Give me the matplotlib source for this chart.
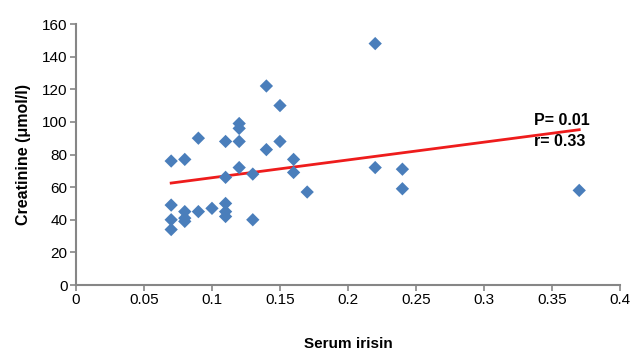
import matplotlib
matplotlib.use("Agg")
import matplotlib.pyplot as plt

irisin = [0.07, 0.07, 0.07, 0.07, 0.08, 0.08, 0.08, 0.08, 0.09, 0.09, 0.10,
          0.11, 0.11, 0.11, 0.11, 0.11, 0.12, 0.12, 0.12, 0.12, 0.13, 0.13,
          0.14, 0.14, 0.15, 0.15, 0.16, 0.16, 0.17, 0.22, 0.22, 0.24, 0.24, 0.37]
creatinine = [76, 49, 40, 34, 77, 45, 41, 39, 90, 45, 47,
              88, 66, 50, 45, 42, 99, 96, 88, 72, 68, 40,
              122, 83, 110, 88, 77, 69, 57, 148, 72, 71, 59, 58]
trend_x = [0.07, 0.37]
trend_y = [62.5, 95.2]
xticks = [0, 0.05, 0.1, 0.15, 0.2, 0.25, 0.3, 0.35, 0.4]
xticklabels = ["0", "0.05", "0.1", "0.15", "0.2", "0.25", "0.3", "0.35", "0.4"]
yticks = [0, 20, 40, 60, 80, 100, 120, 140, 160]

plt.rcParams['font.family'] = ['Liberation Sans', 'DejaVu Sans']

fig = plt.figure(figsize=(6.33, 3.52), dpi=100)
ax = fig.add_axes([0.120, 0.1903, 0.8595, 0.7415])

ax.scatter(irisin, creatinine, marker='D', s=46, color='#4a7ebb', edgecolors='none', zorder=3)
ax.plot(trend_x, trend_y, color='#ee1c1c', lw=2, zorder=2)

ax.set_xlim(0, 0.4)
ax.set_ylim(0, 160)
ax.set_xticks(xticks)
ax.set_xticklabels(xticklabels)
ax.set_yticks(yticks)

gray = '#868686'
for s in ['top', 'right']:
    ax.spines[s].set_visible(False)
for s in ['left', 'bottom']:
    ax.spines[s].set_color(gray)
    ax.spines[s].set_linewidth(1.5)
ax.tick_params(axis='both', colors=gray, labelcolor='black', labelsize=11, length=4, width=1.2, pad=2)

ax.set_xlabel("Serum irisin", fontsize=11, fontweight='bold', labelpad=21)
ax.set_ylabel("Creatinine (μmol/l)", fontsize=11.5, fontweight='bold', labelpad=8)

ax.text(0.3368, 98.2, "P= 0.01", fontsize=11.5, fontweight='bold', va='baseline', ha='left')
ax.text(0.3368, 85.5, "r= 0.33", fontsize=11.5, fontweight='bold', va='baseline', ha='left')

fig.savefig("out.png", dpi=100)
